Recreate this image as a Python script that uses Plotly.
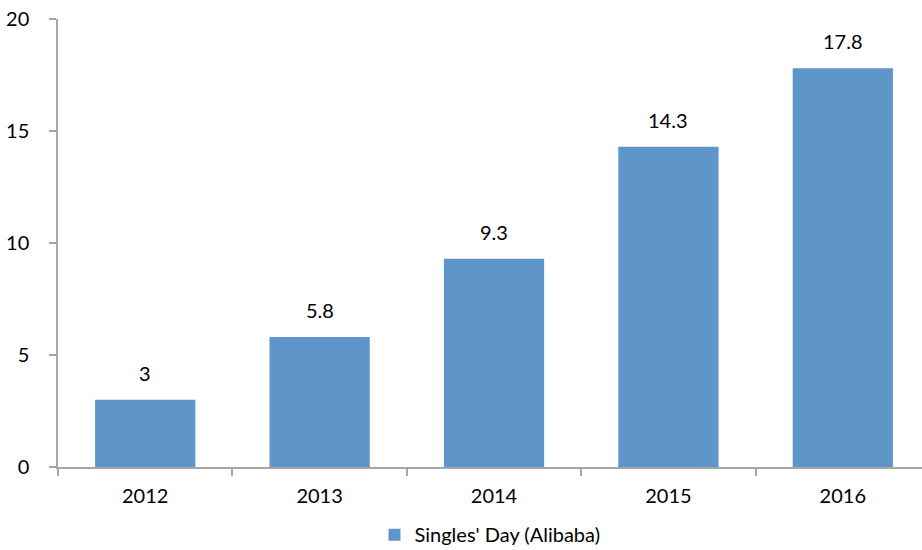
import plotly.graph_objects as go

years = ["2012", "2013", "2014", "2015", "2016"]
values = [3, 5.8, 9.3, 14.3, 17.8]
labels = ["3", "5.8", "9.3", "14.3", "17.8"]
series_name = "Singles' Day (Alibaba)"
y_ticks = [0, 5, 10, 15, 20]

BAR = "#5F96CA"
AXIS = "#A6A6A6"
FONT = "Lato, 'Open Sans', sans-serif"

fig = go.Figure()
fig.add_trace(go.Bar(x=years, y=values, name=series_name, marker_color=BAR,
                     marker_line_width=0, showlegend=True))

for i, (v, t) in enumerate(zip(values, labels)):
    fig.add_annotation(x=i, y=v, xref="x", yref="y", text=t, showarrow=False,
                       yanchor="bottom", yshift=13,
                       font=dict(size=20, color="#000", family=FONT))

fig.update_layout(
    width=922, height=550,
    margin=dict(l=58, r=0, t=19, b=83, autoexpand=False),
    plot_bgcolor="white", paper_bgcolor="white",
    bargap=0.425,
    font=dict(family=FONT, size=20, color="#000"),
    showlegend=True,
    legend=dict(orientation="h", x=0.5, xanchor="center", y=-0.151, yanchor="middle",
                font=dict(size=20), itemsizing="constant"),
    xaxis=dict(type="category", range=[-0.5, 4.454], showline=True, linecolor=AXIS,
               linewidth=1.5, ticks="outside", tickson="boundaries", ticklen=7,
               tickcolor=AXIS, tickwidth=1.5, showgrid=False, zeroline=False,
               tickfont=dict(size=20), ticklabelstandoff=10, automargin=False),
    yaxis=dict(range=[0, 20], tickvals=y_ticks, showline=True, linecolor=AXIS,
               linewidth=1.5, ticks="outside", ticklen=7, tickcolor=AXIS, tickwidth=1.5,
               showgrid=False, zeroline=False, tickfont=dict(size=20),
               ticklabelstandoff=16, automargin=False),
)

fig.write_html("out.html")
